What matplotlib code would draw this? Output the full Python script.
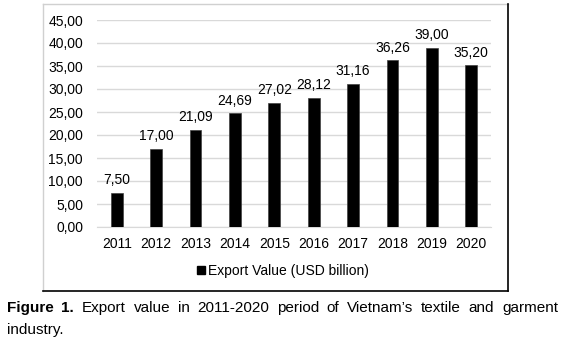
import matplotlib
matplotlib.use('Agg')
import matplotlib.pyplot as plt
from matplotlib.lines import Line2D
from matplotlib.ticker import FuncFormatter

years = ['2011', '2012', '2013', '2014', '2015', '2016', '2017', '2018', '2019', '2020']
export_values = [7.50, 17.00, 21.09, 24.69, 27.02, 28.12, 31.16, 36.26, 39.00, 35.20]
legend_label = 'Export Value (USD billion)'
caption_bold = 'Figure 1.'
caption_line1 = 'Export value in 2011-2020 period of Vietnam\u2019s textile and garment'
caption_line2 = 'industry.'

W, H = 565, 345
plt.rcParams['font.family'] = ['Liberation Sans', 'DejaVu Sans']

fig = plt.figure(figsize=(W / 100, H / 100), dpi=100)


def fx(px):
    return px / W


def fy(py):
    return 1 - py / H


# chart frame: light left/top, dark right/bottom
fig.add_artist(Line2D([fx(43), fx(43)], [fy(291), fy(4)], color='#d0d0d0', lw=1))
fig.add_artist(Line2D([fx(43), fx(508)], [fy(4), fy(4)], color='#d0d0d0', lw=1))
fig.add_artist(Line2D([fx(508), fx(508)], [fy(4), fy(291)], color='black', lw=1.2))
fig.add_artist(Line2D([fx(43), fx(508)], [fy(291), fy(291)], color='black', lw=1.2))

ax = fig.add_axes([fx(97), fy(227), fx(491) - fx(97), fy(20) - fy(227)])
x = range(len(years))
bars = ax.bar(x, export_values, width=0.3, color='black', edgecolor='#404040', linewidth=0.5, zorder=3)

ax.set_xlim(-0.5, len(years) - 0.5)
ax.set_ylim(0, 45)
ax.set_yticks(range(0, 46, 5))
ax.yaxis.set_major_formatter(FuncFormatter(lambda v, p: f'{v:.2f}'.replace('.', ',')))
ax.set_xticks(list(x))
ax.set_xticklabels(years)
ax.tick_params(axis='both', length=0, labelsize=10, colors='black')
ax.tick_params(axis='y', pad=10)
ax.tick_params(axis='x', pad=7)
ax.grid(axis='y', color='#d9d9d9', linewidth=1, zorder=0)
for s in ['left', 'right', 'top']:
    ax.spines[s].set_visible(False)
ax.spines['bottom'].set_color('#d9d9d9')

for b, v in zip(bars, export_values):
    ax.annotate(f'{v:.2f}'.replace('.', ','), (b.get_x() + b.get_width() / 2, v),
                xytext=(0, 4), textcoords='offset points', ha='center', va='bottom', fontsize=10)

handle = Line2D([], [], marker='s', color='black', linestyle='none', markersize=6)
fig.legend([handle], [legend_label], loc='center', bbox_to_anchor=(fx(282), fy(271)),
           frameon=False, fontsize=10, handletextpad=0.1, handlelength=0.8, borderpad=0)

# caption, justified on the first line
cap_font = ['Liberation Sans', 'DejaVu Sans']
cap_size = 11
renderer = fig.canvas.get_renderer()
words = [(w, 'bold') for w in caption_bold.split()] + \
        [(w, 'normal') for w in caption_line1.split()]
left, right = 7, 558
texts = []
total = 0
for w, wt in words:
    t = fig.text(0, fy(308), w, fontsize=cap_size, fontweight=wt, family=cap_font,
                 ha='left', va='center')
    width = t.get_window_extent(renderer).width
    texts.append((t, width))
    total += width
gap = (right - left - total) / (len(words) - 1)
pos = left
for t, width in texts:
    t.set_x(fx(pos))
    pos += width + gap
fig.text(fx(left), fy(330), caption_line2, fontsize=cap_size, family=cap_font,
         ha='left', va='center')

fig.savefig('out.png', dpi=100)
